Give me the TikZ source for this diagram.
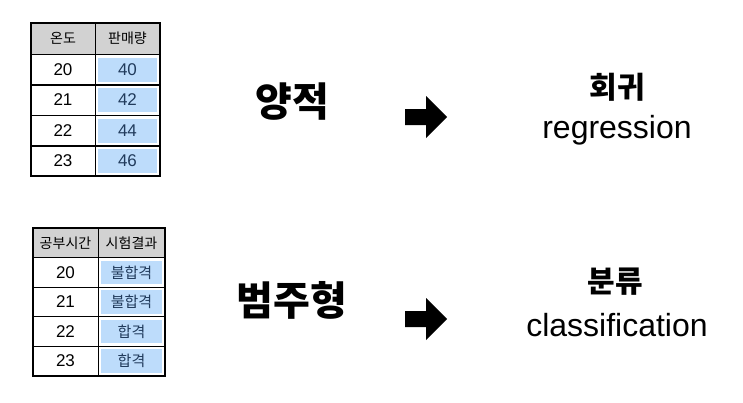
\documentclass[tikz,border=0pt]{standalone}
\usepackage{fontspec}
\setmainfont{Noto Sans CJK KR}
\newfontfamily\lat{Liberation Sans}
\begin{document}
\begin{tikzpicture}[x=1pt,y=-1pt,
  hd/.style={draw=black,line width=1pt,fill=gray!35,minimum height=31pt,inner sep=0pt,font=\fontsize{14}{14}\selectfont},
  cl/.style={draw=black,line width=1pt,fill=white,minimum height=30pt,inner sep=0pt,font=\lat\fontsize{17}{17}\selectfont},
  bl/.style={cl,path picture={\fill[bluec] ([shift={(3pt,3pt)}]path picture bounding box.south west) rectangle ([shift={(-3pt,-3pt)}]path picture bounding box.north east);},text=txtc},
  big/.style={font=\bfseries\fontsize{40}{40}\selectfont},
  mid/.style={font=\bfseries\fontsize{30}{30}\selectfont},
  eng/.style={font=\lat\fontsize{32}{32}\selectfont},
  blk/.style={fill=black}]
\definecolor{bluec}{HTML}{BDDCFB}
\definecolor{txtc}{HTML}{213B5C}
\useasboundingbox (0,0) rectangle (743,402);
% table 1
\node[hd,minimum width=64pt] (a0) at (63,38.5) {온도};
\node[hd,minimum width=65pt] (b0) at (127.5,38.5) {판매량};
\foreach \i/\v/\w in {1/20/40,2/21/42,3/22/44,4/23/46}{
  \node[cl,minimum width=64pt] (a\i) at (63,39+30.5*\i) {\v};
  \node[bl,minimum width=65pt] (b\i) at (127.5,39+30.5*\i) {\w};
}
\draw[line width=2pt] (31,23) rectangle (160,176);
% table 2
\node[hd,minimum width=65pt,minimum height=30pt] (c0) at (65.5,243) {공부시간};
\node[hd,minimum width=67pt,minimum height=30pt] (d0) at (131.5,243) {시험결과};
\foreach \i/\v/\w in {1/20/불합격,2/21/불합격,3/22/합격,4/23/합격}{
  \node[cl,minimum width=65pt,minimum height=29.5pt] (c\i) at (65.5,243+29.5*\i) {\v};
  \node[bl,minimum width=67pt,minimum height=29.5pt,font=\fontsize{15}{15}\selectfont] (d\i) at (131.5,243+29.5*\i) {\w};
}
\draw[line width=2pt] (33,228) rectangle (165,376);
% big labels
\node[big] (t1) at (292,102) {양적};
\node[big] (t2) at (292,300) {범주형};
\node[mid] (r1) at (617,87) {회귀};
\node[eng] (e1) at (617,130) {regression};
\node[mid] (r2) at (615,282) {분류};
\node[eng] (e2) at (617,325) {classification};
% arrows
\coordinate (p1) at (405,101);
\coordinate (p2) at (405,303);
\foreach \p in {p1,p2}{
  \fill[blk] ([yshift=-8]\p) -- ++(21,0) -- ++(0,-13) -- ++(21,21) -- ++(-21,21) -- ++(0,-13) -- ++(-21,0) -- cycle;
}
\end{tikzpicture}
\end{document}
